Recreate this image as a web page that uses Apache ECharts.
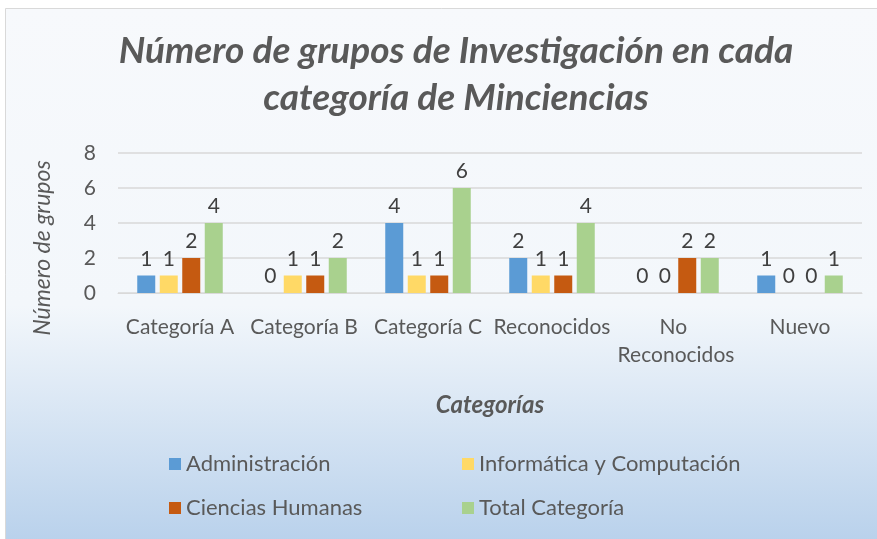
<!DOCTYPE html>
<html>
<head>
<meta charset="utf-8">
<script src="https://cdn.jsdelivr.net/npm/echarts@6/dist/echarts.min.js"></script>
<style>
  html, body { margin: 0; padding: 0; background: #fff; }
  #main { width: 877px; height: 539px; }
</style>
</head>
<body>
<div id="main"></div>
<script>
var categorias = ['Categoría A', 'Categoría B', 'Categoría C', 'Reconocidos', 'No Reconocidos', 'Nuevo'];
var yTicks = [0, 2, 4, 6, 8];
var administracion = [1, 0, 4, 2, 0, 1];
var informatica = [1, 1, 1, 1, 0, 0];
var cienciasHumanas = [2, 1, 1, 1, 2, 0];
var totalCategoria = [4, 2, 6, 4, 2, 1];

var nombres = ['Administración', 'Informática y Computación', 'Ciencias Humanas', 'Total Categoría'];
var colores = ['#5B9BD5', '#FFD966', '#C55A11', '#A9D18E'];
var valores = [administracion, informatica, cienciasHumanas, totalCategoria];

var fuente = 'Lato, "Open Sans", sans-serif';
var gris = '#595959';

var myChart = echarts.init(document.getElementById('main'));

var seriesArray = [];
for (var i = 0; i < valores.length; i++) {
    seriesArray.push({
        name: nombres[i],
        type: 'bar',
        data: valores[i],
        barWidth: 18,
        barGap: '25%',
        itemStyle: { color: colores[i] },
        label: {
            show: true,
            position: 'top',
            distance: 6,
            color: '#404040',
            fontSize: 21,
            fontFamily: fuente
        }
    });
}

myChart.setOption({
    animation: false,
    graphic: [{
        type: 'rect',
        z: -10,
        silent: true,
        shape: { x: 5.5, y: 8.5, width: 880, height: 540 },
        style: {
            fill: new echarts.graphic.LinearGradient(0, 0, 0, 1, [
                { offset: 0, color: '#f7f9fc' },
                { offset: 0.55, color: '#f3f7fb' },
                { offset: 1, color: '#b7d0eb' }
            ]),
            stroke: '#d9d9d9',
            lineWidth: 1
        }
    }],
    title: {
        text: 'Número de grupos de Investigación en cada\ncategoría de Minciencias',
        left: 451,
        textAlign: 'center',
        top: 23,
        textStyle: {
            color: gris,
            fontSize: 37,
            fontWeight: 'bold',
            fontStyle: 'italic',
            fontFamily: fuente,
            lineHeight: 47,
            align: 'center'
        }
    },
    legend: [{
        data: ['Administración', 'Ciencias Humanas'],
        orient: 'vertical',
        left: 164,
        top: 448,
        itemWidth: 12,
        itemHeight: 12,
        itemGap: 22,
        icon: 'rect',
        textStyle: { color: gris, fontSize: 22, fontFamily: fuente }
    }, {
        data: ['Informática y Computación', 'Total Categoría'],
        orient: 'vertical',
        left: 457,
        top: 448,
        itemWidth: 12,
        itemHeight: 12,
        itemGap: 22,
        icon: 'rect',
        textStyle: { color: gris, fontSize: 22, fontFamily: fuente }
    }],
    grid: { left: 118, right: 15, top: 153, bottom: 246 },
    xAxis: {
        type: 'category',
        data: categorias,
        name: 'Categorías',
        nameLocation: 'middle',
        nameGap: 100,
        nameTextStyle: {
            color: gris, fontSize: 24, fontWeight: 'bold', fontStyle: 'italic', fontFamily: fuente
        },
        axisLine: { lineStyle: { color: '#d9d9d9' } },
        axisTick: { show: false },
        axisLabel: {
            interval: 0,
            color: gris,
            fontSize: 21,
            fontFamily: fuente,
            margin: 20,
            width: 140,
            overflow: 'break',
            lineHeight: 28
        }
    },
    yAxis: {
        type: 'value',
        min: yTicks[0],
        max: yTicks[yTicks.length - 1],
        interval: 2,
        name: 'Número de grupos',
        nameLocation: 'middle',
        nameGap: 64,
        nameTextStyle: {
            color: gris, fontSize: 23, fontStyle: 'italic', fontFamily: fuente,
            padding: [0, 0, 0, -50]
        },
        axisLine: { show: false },
        axisTick: { show: false },
        splitLine: { lineStyle: { color: '#d9d9d9', width: 1.5 } },
        axisLabel: { color: gris, fontSize: 21, fontFamily: fuente, margin: 22 }
    },
    series: seriesArray
});
window.onresize = myChart.resize;
</script>
</body>
</html>
